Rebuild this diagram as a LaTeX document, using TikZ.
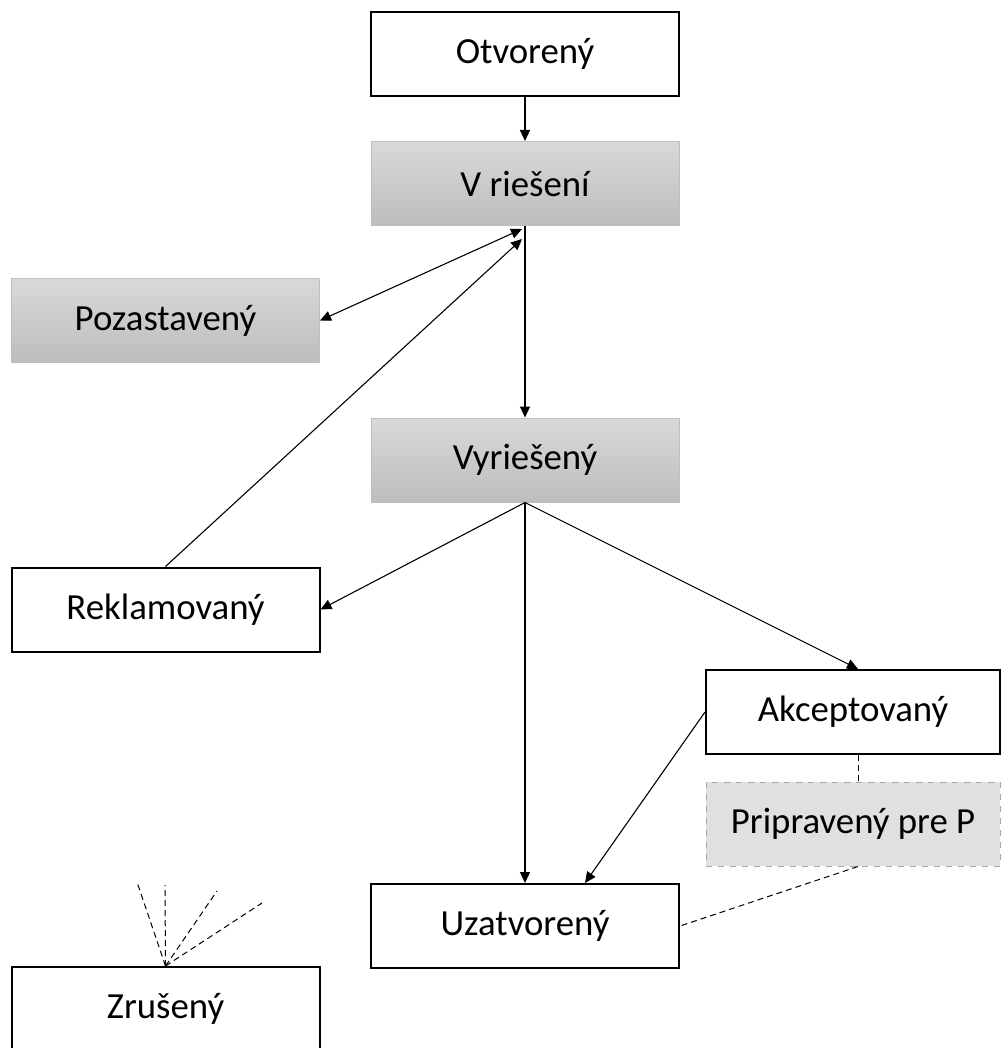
\documentclass[tikz,border=0pt]{standalone}
\usepackage{fontspec}
\setmainfont{Carlito}
\usetikzlibrary{arrows.meta}
\definecolor{gtop}{HTML}{D9D9D9}
\definecolor{gbot}{HTML}{BDBDBD}
\definecolor{gedge}{HTML}{BFBFBF}
\definecolor{pfill}{HTML}{E0E0E0}
\definecolor{pedge}{HTML}{A6A6A6}
\tikzset{
  base/.style={rectangle, inner sep=0pt, minimum width=154pt, minimum height=42pt,
    font=\fontsize{18.4}{20}\selectfont},
  whitebox/.style={base, draw=black, line width=1pt, fill=white},
  graybox/.style={base, draw=gedge, line width=0.5pt, top color=gtop, bottom color=gbot},
  prepbox/.style={base, draw=pedge, dashed, line width=0.5pt, fill=pfill},
  conn/.style={line width=0.55pt, -{Triangle[length=5.5pt,width=5pt]}},
  dconn/.style={line width=0.55pt, {Triangle[length=5.5pt,width=5pt]}-{Triangle[length=5.5pt,width=5pt]}},
  dashconn/.style={line width=0.5pt, dashed, dash pattern=on 3pt off 2pt},
}
\begin{document}
\begin{tikzpicture}[x=0.5pt,y=-0.5pt]
\useasboundingbox (0,0) rectangle (1001,1048);
\node[whitebox] (ot) at (525,54) {Otvorený};
\node[graybox] (vr) at (525,183.5) {V riešení};
\node[graybox] (poz) at (165.5,320.5) {Pozastavený};
\node[graybox] (vy) at (525,460) {Vyriešený};
\node[whitebox] (rek) at (165.5,609.5) {Reklamovaný};
\node[whitebox, minimum width=147pt] (ak) at (853,712) {Akceptovaný};
\node[prepbox, minimum width=147pt] (pp) at (853,824) {Pripravený pre P};
\node[whitebox] (uz) at (525,926) {Uzatvorený};
\node[whitebox] (zr) at (165.5,1009) {Zrušený};

\draw[conn] (ot.south) -- (vr.north);
\draw[dconn] (poz.east) -- ([xshift=-1.5pt,yshift=-1.5pt]vr.south);
\draw[conn] (rek.north) -- ([xshift=-1.5pt,yshift=-6.5pt]vr.south);
\draw[conn] (vr.south) -- (vy.north);
\draw[conn] (vy.south) -- (rek.east);
\draw[conn] (vy.south) -- (uz.north);
\draw[conn] (vy.south) -- ([xshift=2.5pt]ak.north);
\draw[conn] (ak.west) -- ([xshift=30pt]uz.north);
\draw[dashconn] ([xshift=2.5pt]ak.south) -- ([xshift=2.5pt]pp.north);
\draw[dashconn] ([xshift=2.5pt]pp.south) -- (uz.east);

\coordinate (z1) at (137,882);
\coordinate (z2) at (165,885);
\coordinate (z3) at (217,891);
\coordinate (z4) at (262,903);
\foreach \z in {z1,z2,z3,z4}
  \draw[dashconn] (zr.north) -- (\z);
\end{tikzpicture}
\end{document}
